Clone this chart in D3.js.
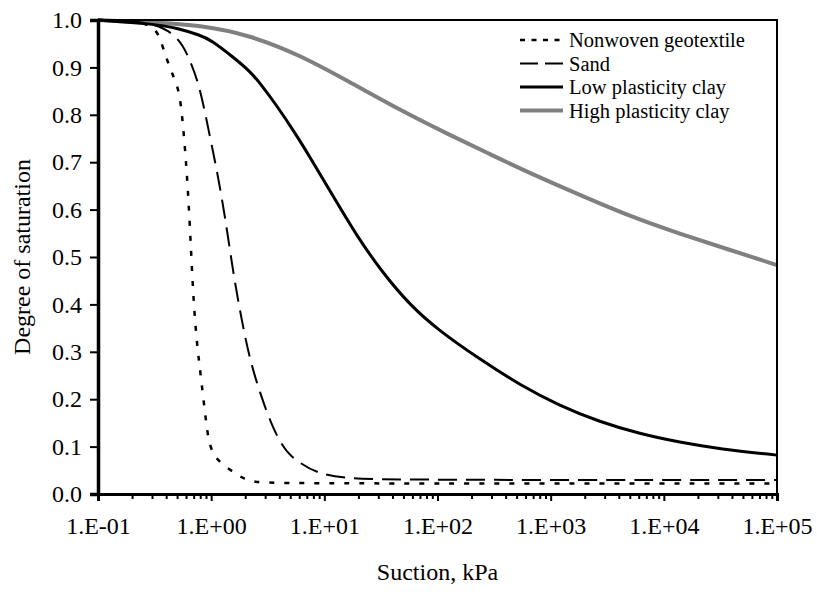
<!DOCTYPE html>
<html>
<head>
<meta charset="utf-8">
<script src="https://cdn.jsdelivr.net/npm/d3@7"></script>
<style>
  body { margin: 0; background: #fff; }
  text { font-family: "Liberation Serif", "Times New Roman", serif; fill: #000; }
</style>
</head>
<body>
<div id="chart"></div>
<script>
// values (suction in kPa, degree of saturation)
const geoSuction = [0.1, 0.192, 0.319, 0.365, 0.407, 0.45, 0.509, 0.541, 0.569, 0.608, 0.65, 0.691, 0.745, 0.813, 0.912, 0.976, 1.118, 1.466, 1.872, 2.34, 4.05, 100000];
const geoSat     = [1.0, 0.999, 0.989, 0.951, 0.916, 0.888, 0.859, 0.821, 0.768, 0.684, 0.563, 0.424, 0.319, 0.247, 0.139, 0.099, 0.072, 0.051, 0.034, 0.025, 0.022, 0.022];

const sandSuction = [0.1, 0.288, 0.509, 0.65, 0.796, 0.976, 1.155, 1.371, 1.567, 1.859, 2.2, 2.7, 3.54, 4.65, 6.09, 8.55, 14.6, 32.9, 100000];
const sandSat     = [1.0, 0.998, 0.968, 0.916, 0.859, 0.753, 0.669, 0.563, 0.466, 0.367, 0.283, 0.213, 0.135, 0.0865, 0.0654, 0.0443, 0.0338, 0.0295, 0.0295];

const lowSuction = [0.1, 0.306, 0.499, 0.796, 0.996, 1.558, 2.2, 2.7, 3.81, 5.5, 7.46, 11.9, 19.4, 32.9, 57, 98.8, 237, 535, 1206, 2720, 6138, 13845, 31240, 100000];
const lowSat     = [1.0, 0.992, 0.983, 0.968, 0.958, 0.922, 0.892, 0.867, 0.819, 0.762, 0.711, 0.629, 0.544, 0.466, 0.399, 0.348, 0.284, 0.230, 0.186, 0.152, 0.127, 0.109, 0.095, 0.082];

const highSuction = [0.1, 0.306, 0.796, 2.2, 6.09, 16.8, 46.5, 129, 290, 655, 1811, 5006, 13845, 38280, 100000];
const highSat     = [1.0, 0.9947, 0.9895, 0.968, 0.926, 0.869, 0.810, 0.757, 0.717, 0.677, 0.631, 0.586, 0.549, 0.515, 0.483];

const seriesNames = ["Nonwoven geotextile", "Sand", "Low plasticity clay", "High plasticity clay"];
const yTicks = [0, 0.1, 0.2, 0.3, 0.4, 0.5, 0.6, 0.7, 0.8, 0.9, 1.0];
const xTicks = [0.1, 1, 10, 100, 1000, 10000, 100000];

const width = 817, height = 592;
const plot = { left: 98, right: 777, top: 20, bottom: 494 };

const svg = d3.select("#chart").append("svg")
  .attr("width", width)
  .attr("height", height);

const x = d3.scaleLog().domain([0.1, 100000]).range([plot.left, plot.right]);
const y = d3.scaleLinear().domain([0, 1]).range([plot.bottom, plot.top]);

// series styles (dash = on the curve, legendDash = in the key)
const series = [
  { name: seriesNames[0], s: geoSuction, v: geoSat, color: "#000", width: 2.5, dash: "5,10", legendDash: "5,6.5" },
  { name: seriesNames[1], s: sandSuction, v: sandSat, color: "#000", width: 2, dash: "19,9", legendDash: "18,7" },
  { name: seriesNames[2], s: lowSuction, v: lowSat, color: "#000", width: 3, dash: null, legendDash: null },
  { name: seriesNames[3], s: highSuction, v: highSat, color: "#808080", width: 4, dash: null, legendDash: null }
];

const line = d3.line()
  .x(d => x(d[0]))
  .y(d => y(d[1]))
  .curve(d3.curveBasis);

// draw curves (gray first so black sits above)
[3, 2, 1, 0].forEach(i => {
  const s = series[i];
  svg.append("path")
    .datum(s.s.map((d, j) => [d, s.v[j]]))
    .attr("d", line)
    .attr("fill", "none")
    .attr("stroke", s.color)
    .attr("stroke-width", s.width)
    .attr("stroke-dasharray", s.dash);
});

// frame
svg.append("rect")
  .attr("x", plot.left).attr("y", plot.top)
  .attr("width", plot.right - plot.left).attr("height", plot.bottom - plot.top)
  .attr("fill", "none").attr("stroke", "#000").attr("stroke-width", 2);

// y axis
const yAxis = svg.append("g")
  .attr("transform", `translate(${plot.left},0)`)
  .call(d3.axisLeft(y).tickValues(yTicks).tickFormat(d3.format(".1f")).tickSize(8).tickPadding(8));
yAxis.select(".domain").attr("stroke-width", 3.5);
yAxis.selectAll(".tick line").attr("stroke-width", 2);
yAxis.selectAll("text").attr("font-size", 24);

// x axis major ticks
const fmt = d => {
  const e = Math.round(Math.log10(d));
  return "1.E" + (e < 0 ? "-" : "+") + String(Math.abs(e)).padStart(2, "0");
};
const xAxis = svg.append("g")
  .attr("transform", `translate(0,${plot.bottom})`)
  .call(d3.axisBottom(x).tickValues(xTicks).tickFormat(fmt).tickSize(7).tickPadding(16));
xAxis.select(".domain").attr("stroke-width", 3);
xAxis.selectAll(".tick line").attr("stroke-width", 2);
xAxis.selectAll("text").attr("font-size", 24);

// x axis minor ticks
const minor = [];
xTicks.slice(0, -1).forEach(p => { for (let k = 2; k <= 9; k++) minor.push(p * k); });
svg.append("g")
  .attr("transform", `translate(0,${plot.bottom})`)
  .call(d3.axisBottom(x).tickValues(minor).tickFormat("").tickSize(5))
  .call(g => g.select(".domain").remove())
  .selectAll(".tick line").attr("stroke-width", 2);

// axis titles
svg.append("text")
  .attr("x", (plot.left + plot.right) / 2).attr("y", 580)
  .attr("text-anchor", "middle")
  .attr("font-size", 24)
  .text("Suction, kPa");

svg.append("text")
  .attr("transform", `translate(30,${(plot.top + plot.bottom) / 2}) rotate(-90)`)
  .attr("text-anchor", "middle")
  .attr("font-size", 24)
  .text("Degree of saturation");

// legend
const legend = svg.append("g");
series.forEach((s, i) => {
  const ly = 40 + i * 23.5;
  legend.append("line")
    .attr("x1", 520).attr("x2", 563)
    .attr("y1", ly).attr("y2", ly)
    .attr("stroke", s.color)
    .attr("stroke-width", s.width)
    .attr("stroke-dasharray", s.legendDash);
  legend.append("text")
    .attr("x", 569).attr("y", ly)
    .attr("dy", "0.35em")
    .attr("font-size", 20.5)
    .text(s.name);
});
</script>
</body>
</html>
